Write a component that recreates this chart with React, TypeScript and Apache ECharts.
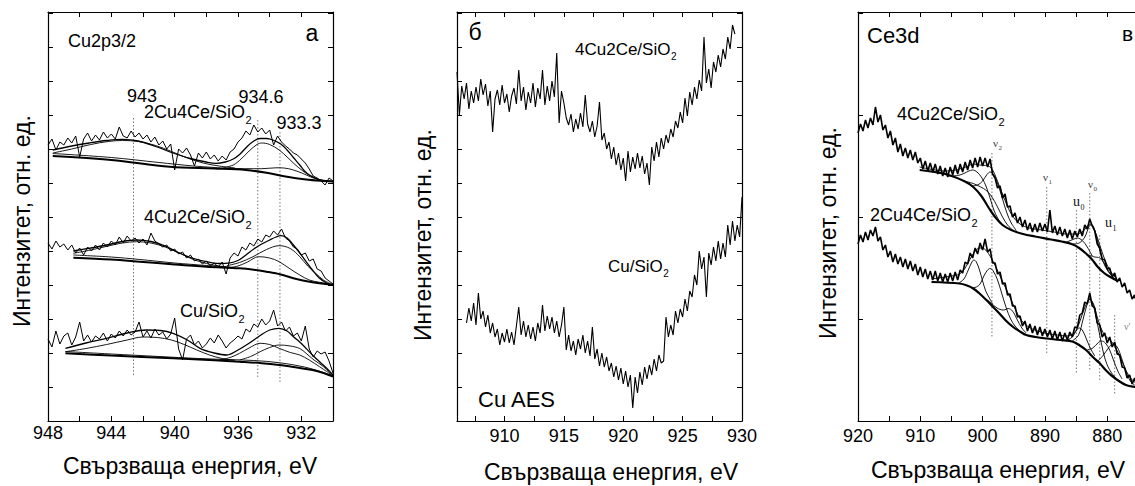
import { useEffect, useRef } from "react";
import * as echarts from "echarts";

const SANS = '"Liberation Sans", Arial, Helvetica, sans-serif';
const SERIF = '"Liberation Serif", "Times New Roman", serif';

// ---------------- Panel а : Cu2p3/2 XPS ----------------
const aRawStart = 948;
const aRawStep = -0.25;
const aTopRaw = [276, 282, 271, 279, 276, 283, 278, 285, 264, 282,
  288, 280, 286, 281, 289, 283, 287, 282, 294, 285,
  283, 290, 284, 288, 282, 286, 279, 284, 276, 280,
  272, 277, 251, 272, 268, 273, 266, 255, 268, 263,
  269, 262, 266, 260, 265, 261, 269, 272, 279, 283,
  290, 286, 296, 289, 293, 287, 291, 276, 285, 279,
  275, 272, 268, 266, 262, 258, 252, 245, 243, 240,
  236, 243, 240];
const aMidRaw = [178, 172, 180, 174, 177, 171, 176, 168, 173, 166,
  174, 170, 176, 171, 178, 174, 180, 176, 184, 178,
  185, 180, 183, 178, 182, 176, 188, 180, 177, 174,
  176, 170, 172, 167, 169, 163, 166, 160, 162, 157,
  160, 155, 158, 154, 159, 147, 163, 168, 165, 174,
  171, 178, 175, 182, 179, 186, 184, 190, 186, 192,
  183, 180, 174, 172, 166, 168, 160, 162, 152, 150,
  143, 140, 137];
const aBotRaw = [82, 74, 90, 77, 85, 88, 76, 84, 99, 80,
  86, 79, 85, 82, 88, 80, 87, 83, 90, 85,
  91, 86, 89, 99, 84, 90, 83, 92, 86, 89,
  82, 87, 103, 72, 61, 82, 86, 76, 80, 73,
  77, 83, 78, 86, 80, 73, 78, 81, 85, 82,
  92, 89, 97, 94, 102, 96, 100, 111, 95, 99,
  90, 94, 85, 88, 80, 95, 72, 64, 70, 67,
  69, 60, 48];

const aTopBg = [[947.7, 265], [944, 261], [940.3, 254.2], [937.5, 252.5], [935.5, 251], [934.3, 248.5], [933, 244.5], [931.7, 241.5], [930.6, 240], [930, 239.5]];
const aTopBg2 = [[947.7, 267.5], [944, 263.5], [941, 258.5], [938.8, 255], [937, 253]];
const aTop943 = [[947.7, 268], [946.5, 272], [945.3, 276.5], [944.2, 279.5], [943.3, 280.5], [942.3, 279.5], [941.2, 275.5], [940.2, 269.5], [939.2, 263], [938.2, 258], [937.2, 255], [936.2, 253]];
const aTopEnv = [[947.7, 271], [946.5, 275], [945.4, 278], [944.3, 280.5], [943.3, 281.7], [942.3, 280], [941.2, 274.5], [940.1, 268], [939, 262.5], [938, 259], [937.4, 257.7], [936.8, 259], [936.3, 262], [935.9, 266.5], [935.45, 274], [935, 280], [934.6, 282.5], [934.2, 282.5], [933.8, 281], [933.3, 277], [932.9, 271], [932.5, 263.5], [932.1, 256], [931.8, 250], [931.5, 246], [931, 242], [930.6, 240.5], [930, 239.5]];
const aTop934 = [[937, 253], [936.3, 256], [935.8, 262], [935.3, 270], [934.8, 276.5], [934.5, 278], [934, 276.5], [933.4, 271], [932.9, 264], [932.4, 256.5], [931.9, 250], [931.4, 245], [931, 242], [930.5, 240], [930, 239.5]];
const aTop933 = [[936.5, 252.8], [935.5, 252.3], [934.5, 252.3], [933.6, 253.2], [933.1, 253], [932.5, 251], [931.9, 247.5], [931.4, 244], [930.9, 241.3], [930.4, 240]];

const aMidBg = [[946.4, 163.3], [944, 161.5], [942.2, 159.3], [940, 156.5], [938, 154.3], [935.9, 152.7], [935, 151.3], [934.2, 149.3], [933.3, 146.5], [932.5, 142.7], [931.9, 140.5], [931.3, 138.7], [930.6, 137.3], [930, 136.5]];
const aMidBg2 = [[946.4, 166], [944, 164], [942.2, 161.5], [940, 158], [938, 155.5], [936.3, 153.5]];
const aMid943 = [[946.4, 167.7], [945.3, 171], [944.2, 175], [943.3, 178], [942.4, 179.3], [941.5, 178], [940.6, 174], [939.7, 168], [938.9, 162], [938, 157.5], [937.2, 155], [936.4, 153.5]];
const aMidEnv = [[946.4, 170], [945.3, 173], [944.3, 176], [943.3, 179.5], [942.4, 181], [941.5, 179.5], [940.6, 175], [939.7, 168], [938.9, 163], [938, 159.3], [937.2, 157.5], [936.6, 157.8], [936, 160.5], [935.5, 166], [935, 172], [934.5, 177], [934, 181], [933.6, 184], [933.3, 185.3], [932.9, 183], [932.5, 176], [932.1, 168], [931.7, 159.3], [931.3, 151], [930.85, 142.7], [930.4, 138], [930, 136]];
const aMid934 = [[936.7, 153], [936, 155], [935.4, 159], [934.7, 164.3], [934, 163], [933.4, 159.3], [932.7, 152], [932.1, 146], [931.5, 141], [930.85, 138.7], [930.2, 137]];
const aMid933 = [[936.7, 155.3], [935.9, 158.5], [935.05, 164.3], [934.2, 171.5], [933.4, 175.3], [932.7, 172.5], [932.1, 164.3], [931.6, 155], [931.1, 147.7], [930.6, 141], [930.2, 137.7]];

const aBotBg = [[946.9, 67.7], [944, 65.5], [940.1, 62.7], [937.5, 60.8], [935.9, 59.3], [934.5, 57.8], [933.4, 56], [932.3, 53.5], [931.3, 51], [930.6, 48], [930, 44.3]];
const aBotBg2 = [[946.9, 69.5], [944, 67], [941, 64.5], [938.5, 62.5], [936.7, 61.5], [935, 60.5], [933.4, 58.3], [931.8, 54], [930.8, 49.5], [930, 45]];
const aBot942 = [[946.9, 69.3], [945.6, 72.5], [944.3, 76.5], [943, 81], [942, 84], [941.1, 83.5], [940.2, 81], [939.4, 76.5], [938.6, 71], [937.8, 66], [937, 62.5], [936.2, 60.5]];
const aBotEnv = [[946.9, 72.7], [945.6, 78], [944.3, 82.7], [943, 88], [941.8, 91], [940.9, 90.5], [940.1, 87.7], [939.2, 81], [938.4, 72.7], [937.5, 68], [936.7, 66], [936, 71], [935.3, 77.7], [934.6, 85.5], [934, 91], [933.4, 92.7], [932.9, 90], [932.5, 84.3], [932, 77.5], [931.3, 66], [930.8, 58.5], [930.4, 52.7], [930, 46]];
const aBot934 = [[937.2, 61], [936.5, 63.5], [935.9, 67.7], [935.3, 73], [934.6, 77.7], [934, 76.5], [933.4, 72.7], [932.7, 68.5], [932.1, 66], [931.5, 61], [930.85, 54.3], [930.4, 49.5], [930, 45]];
const aBot933 = [[935.9, 61], [935.2, 64.5], [934.6, 69.3], [934, 73.5], [933.4, 76], [932.7, 75], [932.1, 72.5], [931.7, 67.7], [931.2, 61], [930.6, 54.3], [930, 44.3]];

const aMarkE = [942.6, 934.75, 933.35];
const aMarkTop = [303, 301, 289];
const aMarkBottom = [46, 44, 38];
const aTicks = [930, 932, 934, 936, 938, 940, 942, 944, 946, 948];
const aLabels = [932, 936, 940, 944, 948];

// ---------------- Panel б : Cu AES ----------------
const bTopStart = 906.0;
const bBotStart = 906.8;
const bStep = 0.2;
const bTopRaw = [349, 306, 335, 322, 338, 312, 330, 318, 334, 320,
  342, 326, 337, 315, 330, 289, 322, 331, 316, 336,
  318, 327, 309, 325, 333, 317, 351, 320, 334, 311,
  329, 318, 338, 314, 333, 322, 351, 316, 335, 320,
  340, 324, 368, 298, 330, 318, 303, 296, 307, 289,
  302, 292, 308, 294, 326, 297, 289, 300, 284, 295,
  319, 281, 288, 272, 279, 262, 274, 256, 268, 251,
  263, 240, 270, 249, 264, 252, 268, 253, 265, 247,
  258, 236, 274, 260, 279, 264, 283, 272, 286, 278,
  292, 284, 300, 293, 309, 298, 323, 305, 329, 316,
  334, 322, 341, 330, 384, 338, 352, 333, 359, 349,
  366, 354, 372, 362, 384, 372, 396, 387];
const bBotRaw = [98, 113, 100, 118, 96, 128, 102, 110, 94, 106,
  88, 98, 84, 92, 76, 88, 79, 92, 78, 89,
  76, 95, 114, 86, 100, 84, 96, 82, 94, 80,
  98, 88, 116, 90, 105, 92, 104, 88, 100, 84,
  96, 114, 71, 86, 70, 80, 66, 82, 72, 86,
  68, 80, 65, 94, 62, 72, 55, 68, 54, 64,
  50, 58, 44, 55, 41, 53, 37, 50, 34, 46,
  13, 44, 28, 49, 36, 54, 42, 56, 46, 62,
  50, 66, 58, 60, 104, 84, 96, 86, 110, 98,
  112, 104, 122, 110, 130, 124, 146, 136, 170, 152,
  164, 124, 168, 156, 174, 160, 180, 162, 178, 164,
  196, 176, 200, 180, 196, 184, 224];
const bTicks = [907.5, 910, 912.5, 915, 917.5, 920, 922.5, 925, 927.5, 930];
const bLabels = [910, 915, 920, 925, 930];

// ---------------- Panel в : Ce3d XPS ----------------
const cRawStart = 920;
const cRawStep = -0.4;
const cTopRaw = [288, 297, 290, 301, 293, 303, 296, 314, 299, 306,
  291, 296, 283, 290, 276, 283, 269, 277, 265, 273,
  263, 271, 261, 269, 258, 263, 252, 260, 250, 258,
  249, 257, 247, 255, 245, 253, 244, 254, 246, 256,
  247, 257, 249, 259, 251, 261, 253, 263, 254, 264,
  255, 263, 254, 262, 247, 243, 233, 235, 223, 227,
  214, 215, 204, 208, 198, 204, 194, 201, 191, 198,
  189, 197, 189, 198, 190, 197, 189, 211, 188, 195,
  186, 194, 185, 192, 183, 191, 182, 190, 184, 192,
  185, 196, 192, 202, 195, 190, 177, 173, 162, 161,
  152, 153, 144, 148, 139, 143, 134, 138, 128, 131,
  122, 126, 116, 120];
const cBotRaw = [177, 186, 179, 189, 181, 191, 185, 194, 180, 184,
  171, 176, 164, 170, 159, 167, 157, 164, 154, 162,
  152, 160, 150, 157, 146, 154, 144, 152, 142, 150,
  141, 150, 140, 148, 139, 147, 139, 148, 140, 149,
  141, 151, 148, 159, 157, 168, 163, 173, 167, 178,
  171, 182, 169, 172, 158, 158, 147, 149, 137, 138,
  126, 127, 115, 115, 104, 105, 95, 100, 90, 97,
  88, 95, 86, 94, 85, 92, 84, 91, 82, 90,
  81, 89, 80, 88, 81, 89, 84, 94, 93, 106,
  108, 119, 117, 128, 115, 113, 98, 96, 84, 88,
  78, 84, 74, 79, 67, 66, 54, 53, 43, 46,
  37, 43, 36, 42];

const cTopBg = [[910.1, 251], [906, 247], [903, 240], [901.5, 234], [900.2, 225], [899, 213], [898, 204], [896.8, 196], [895.4, 191], [893.5, 187], [891.6, 184.5], [889, 181.5], [887.3, 179.5], [885.5, 176.5], [884.5, 173], [883.5, 168], [882.5, 162], [881.5, 154], [880.5, 148], [879.5, 144], [878.3, 140]];
const cTopEnv = [[910.1, 254], [906, 250], [904, 251.5], [902.5, 254.5], [901.5, 257], [900.5, 256], [899.5, 255.5], [898.7, 253.5], [898, 246], [897.2, 233], [896.3, 219], [895.3, 206], [894, 197], [892.5, 193], [890.5, 191], [888.5, 189], [886.5, 187], [885, 187], [884, 189], [883.3, 194], [882.7, 197], [882.1, 192], [881.4, 180], [880.6, 165], [879.6, 151], [878.5, 142]];
const cTopA = [[905.5, 245], [904, 245.5], [903, 247.5], [902.2, 250], [901.6, 251], [900.9, 249], [900.1, 243], [899.4, 234], [898.8, 223], [898.2, 211], [897.5, 202], [896.8, 196]];
const cTopB = [[901.8, 235], [900.8, 236], [900, 240], [899.3, 246.5], [898.8, 249], [898.2, 246], [897.5, 236], [896.8, 222], [896.1, 208], [895.4, 198], [894.6, 190.5]];
const cTopC = [[903, 240], [901.5, 237.5], [900.3, 234], [899.5, 231], [898.6, 225], [897.6, 214], [896.8, 204], [896, 196], [895.2, 191]];
const cTopV0 = [[885.5, 177], [884.5, 178], [883.6, 184], [882.9, 194.5], [882.5, 196.5], [882, 191], [881.4, 176], [880.7, 160], [879.9, 150], [879.2, 145]];
const cTopU0 = [[886.5, 179], [885.5, 181.5], [884.8, 183], [884, 180.5], [883.2, 174], [882.4, 165]];
const cTopU1 = [[883, 166], [882, 164], [881.2, 163], [880.4, 157], [879.6, 148], [878.8, 142]];

const cBotBg = [[908.2, 139], [903.7, 137.5], [902.5, 135.5], [901.5, 132.5], [900.5, 127.5], [899.4, 121], [898.3, 114], [897.3, 107.5], [896.2, 100], [895.1, 94], [894, 89.5], [893, 86], [891.5, 84], [889.8, 82.5], [887.5, 81], [885.5, 79.3], [884.4, 75.5], [883.4, 71], [882.3, 64], [881.2, 57.7], [880.1, 50], [879.1, 44.3], [878, 39.5], [877, 36], [875.9, 34.3], [874.8, 34]];
const cBotEnv = [[908.2, 142], [905, 145], [903.7, 147], [902.8, 153], [902, 162], [901.3, 169], [900.5, 173], [899.7, 172], [898.9, 166], [898.1, 157], [897.2, 145], [896.3, 133], [895.4, 121], [894.4, 107], [893.4, 98], [892, 92], [890, 88], [888, 86], [886.5, 85], [885.5, 87], [884.8, 93], [884.2, 103], [883.5, 115], [882.8, 122], [882.2, 117], [881.6, 104], [881, 93], [880.3, 85], [879.4, 80], [878.8, 75], [878, 65], [877.3, 55], [876.5, 45], [875.6, 39], [874.8, 37]];
const cBotA = [[903.8, 138], [903, 142], [902.3, 151], [901.8, 158], [901.4, 161], [901, 159], [900.5, 151], [900, 140], [899.5, 130], [899, 124], [898.4, 117]];
const cBotB = [[901.8, 133], [901, 134], [900.4, 137], [899.8, 145], [899.2, 151], [898.8, 152.5], [898.3, 150], [897.6, 141], [896.9, 127], [896.2, 113], [895.5, 102], [894.8, 95], [894, 90]];
const cBotC = [[899.2, 121], [898.3, 116], [897.4, 112], [896.6, 111], [895.9, 112.5], [895.2, 110], [894.5, 102], [893.7, 93], [893, 88]];
const cBotV0 = [[885.6, 80], [884.6, 86], [883.9, 101], [883.3, 115], [882.8, 121.5], [882.3, 117], [881.8, 104], [881.2, 86], [880.6, 68], [880, 56], [879.3, 48], [878.6, 43]];
const cBotU0 = [[886.5, 80.5], [885.6, 84], [885, 90], [884.5, 93], [884, 91], [883.4, 83], [882.8, 74], [882, 65]];
const cBotU1 = [[883.2, 71], [882.3, 73], [881.5, 78], [880.9, 80], [880.3, 78], [879.6, 71], [879, 61], [878.3, 50], [877.6, 42]];
const cBotVp = [[881.5, 60], [880.6, 66], [879.8, 73], [879.1, 77], [878.4, 74], [877.7, 63], [877, 50], [876.3, 40], [875.6, 36]];

const cMarkE = [898.5, 889.7, 884.95, 882.8, 881.2, 878.8];
const cMarkTop = [268, 234, 211, 228, 186, 106];
const cMarkBottom = [84, 68, 48, 51, 39, 26];
const cTicks = [870, 875, 880, 885, 890, 895, 900, 905, 910, 915, 920];
const cLabels = [880, 890, 900, 910, 920];

// ---------------- helpers ----------------
const sampled = (start: number, step: number, vals: number[]) =>
  vals.map((v, i) => [Math.round((start + step * i) * 100) / 100, v]);

function line(data: number[][], p: number, width: number, extra: any = {}) {
  return {
    type: "line",
    xAxisIndex: p * 2,
    yAxisIndex: p * 2,
    data,
    symbol: "none",
    showSymbol: false,
    silent: true,
    lineStyle: { color: "#000", width },
    z: 3,
    ...extra,
  };
}
const fit = (data: number[][], p: number, width = 0.9) =>
  line(data, p, width, { smooth: 0.35, z: 2 });

function markers(E: number[], top: number[], bottom: number[], p: number) {
  return E.map((e, i) =>
    line([[e, top[i]], [e, bottom[i]]], p, 1, {
      lineStyle: { color: "#777", width: 1, type: [1.5, 2] },
      z: 1,
    })
  );
}

const axisLineStyle = { color: "#000", width: 1.2 };

function xAxes(grid: number, min: number, max: number, inverse: boolean, ticks: number[], labels: number[], margin: number) {
  const common: any = {
    type: "value",
    gridIndex: grid,
    min,
    max,
    inverse,
    splitLine: { show: false },
    axisLine: { show: true, onZero: false, lineStyle: axisLineStyle },
    axisTick: { show: true, inside: true, length: 5, customValues: ticks, lineStyle: { color: "#000", width: 1 } },
  };
  return [
    {
      ...common,
      position: "bottom",
      axisLabel: { show: true, customValues: labels, color: "#000", fontSize: 18, fontFamily: SANS, margin },
    },
    { ...common, position: "top", axisLabel: { show: false } },
  ];
}

function yAxes(grid: number, interval: number) {
  const common: any = {
    type: "value",
    gridIndex: grid,
    min: 0,
    max: 409,
    interval,
    splitLine: { show: false },
    axisLabel: { show: false },
    axisLine: { show: true, onZero: false, lineStyle: axisLineStyle },
    axisTick: { show: true, inside: true, length: 5, lineStyle: { color: "#000", width: 1 } },
  };
  return [
    { ...common, position: "left" },
    { ...common, position: "right" },
  ];
}

function txt(x: number, y: number, t: string, size: number, align = "left", extra: any = {}) {
  return {
    type: "text",
    x,
    y,
    silent: true,
    style: { text: t, fontSize: size, fontFamily: SANS, fill: "#000", align, verticalAlign: "middle", ...extra },
  };
}

let measureCtx: CanvasRenderingContext2D | null = null;
function textWidth(t: string, size: number, family: string) {
  if (!measureCtx) measureCtx = document.createElement("canvas").getContext("2d");
  if (!measureCtx) return t.length * size * 0.55;
  measureCtx.font = `${size}px ${family}`;
  return measureCtx.measureText(t).width;
}

function subTxt(x: number, yc: number, main: string, sub: string, size: number, subSize: number, drop: number, family = SANS, fill = "#000") {
  const w = textWidth(main, size, family);
  return [
    txt(x, yc, main, size, "left", { fontFamily: family, fill }),
    txt(x + w + 0.5, yc + drop, sub, subSize, "left", { fontFamily: family, fill }),
  ];
}

const xTitle = "Свързваща енергия, eV";
const yTitle = "Интензитет, отн. ед.";

function buildOption() {
  const series: any[] = [
    // panel a
    ...markers(aMarkE, aMarkTop, aMarkBottom, 0),
    fit(aTopBg, 0, 2), fit(aTopBg2, 0), fit(aTop943, 0), fit(aTop934, 0), fit(aTop933, 0), fit(aTopEnv, 0, 1.3),
    fit(aMidBg, 0, 2), fit(aMidBg2, 0), fit(aMid943, 0), fit(aMid934, 0), fit(aMid933, 0), fit(aMidEnv, 0, 1.3),
    fit(aBotBg, 0, 2), fit(aBotBg2, 0), fit(aBot942, 0), fit(aBot934, 0), fit(aBot933, 0), fit(aBotEnv, 0, 1.3),
    line(sampled(aRawStart, aRawStep, aTopRaw), 0, 1),
    line(sampled(aRawStart, aRawStep, aMidRaw), 0, 1),
    line(sampled(aRawStart, aRawStep, aBotRaw), 0, 1),
    // panel b
    line(sampled(bTopStart, bStep, bTopRaw), 1, 1.1),
    line(sampled(bBotStart, bStep, bBotRaw), 1, 1.1),
    // panel c
    ...markers(cMarkE, cMarkTop, cMarkBottom, 2),
    fit(cTopBg, 2, 2.2), fit(cTopA, 2), fit(cTopB, 2), fit(cTopC, 2), fit(cTopV0, 2), fit(cTopU0, 2), fit(cTopU1, 2), fit(cTopEnv, 2),
    fit(cBotBg, 2, 2.2), fit(cBotA, 2), fit(cBotB, 2), fit(cBotC, 2), fit(cBotV0, 2), fit(cBotU0, 2), fit(cBotU1, 2), fit(cBotVp, 2), fit(cBotEnv, 2),
    line(sampled(cRawStart, cRawStep, cTopRaw), 2, 1.6),
    line(sampled(cRawStart, cRawStep, cBotRaw), 2, 1.6),
  ];

  const graphic: any[] = [
    // panel a
    txt(68, 41, "Cu2p3/2", 18),
    txt(312, 33, "a", 23, "center"),
    txt(142, 96, "943", 18, "center"),
    txt(261, 97, "934.6", 18, "center"),
    txt(299, 123, "933.3", 18, "center"),
    ...subTxt(144, 112, "2Cu4Ce/SiO", "2", 18, 11, 8),
    ...subTxt(144, 217, "4Cu2Ce/SiO", "2", 18, 11, 8),
    ...subTxt(180, 311, "Cu/SiO", "2", 18, 11, 8),
    // panel b
    txt(475, 32, "б", 23, "center"),
    ...subTxt(575, 49, "4Cu2Ce/SiO", "2", 17, 10, 7),
    ...subTxt(608, 266, "Cu/SiO", "2", 17, 10, 7),
    txt(478, 399, "Cu AES", 22),
    // panel c
    txt(867, 35, "Ce3d", 22),
    txt(1122, 33, "в", 21),
    ...subTxt(897, 114, "4Cu2Ce/SiO", "2", 18, 11, 8),
    ...subTxt(870, 215, "2Cu4Ce/SiO", "2", 18, 11, 8),
    ...subTxt(993, 143, "ν", "2", 11, 7, 5, SERIF, "#444"),
    ...subTxt(1043, 177, "ν", "1", 11, 7, 5, SERIF, "#444"),
    ...subTxt(1073, 201, "u", "0", 14, 8, 6, SERIF, "#111"),
    ...subTxt(1088, 184, "ν", "0", 11, 7, 5, SERIF, "#444"),
    ...subTxt(1105, 222, "u", "1", 14, 8, 6, SERIF, "#111"),
    txt(1124, 326, "ν'", 10, "left", { fontFamily: SERIF, fill: "#888" }),
    // axis titles
    txt(190, 466, xTitle, 23, "center"),
    txt(611, 472, xTitle, 23, "center"),
    txt(998, 470, xTitle, 23, "center"),
    { ...txt(22, 221, yTitle, 23, "center"), rotation: Math.PI / 2 },
    { ...txt(423, 235, yTitle, 23, "center"), rotation: Math.PI / 2 },
    { ...txt(828, 233, yTitle, 23, "center"), rotation: Math.PI / 2 },
  ];

  return {
    animation: false,
    backgroundColor: "#fff",
    grid: [
      { left: 48, top: 12, width: 285, height: 409, outerBoundsMode: "none", containLabel: false },
      { left: 457, top: 12, width: 285, height: 409, outerBoundsMode: "none", containLabel: false },
      { left: 858, top: 12, width: 311.5, height: 409, outerBoundsMode: "none", containLabel: false },
    ],
    xAxis: [
      ...xAxes(0, 930, 948, true, aTicks, aLabels, 3),
      ...xAxes(1, 906, 930, false, bTicks, bLabels, 6),
      ...xAxes(2, 870, 920, true, cTicks, cLabels, 6),
    ],
    yAxis: [...yAxes(0, 34), ...yAxes(1, 34), ...yAxes(2, 102)],
    series,
    graphic,
  };
}

export default function App() {
  const ref = useRef<HTMLDivElement>(null);
  useEffect(() => {
    const chart = echarts.init(ref.current!, null, { renderer: "svg" });
    chart.setOption(buildOption() as any);
    return () => chart.dispose();
  }, []);
  return (
    <div
      ref={ref}
      style={{ position: "fixed", left: 0, top: 0, width: 1135, height: 486, background: "#fff" }}
    />
  );
}
